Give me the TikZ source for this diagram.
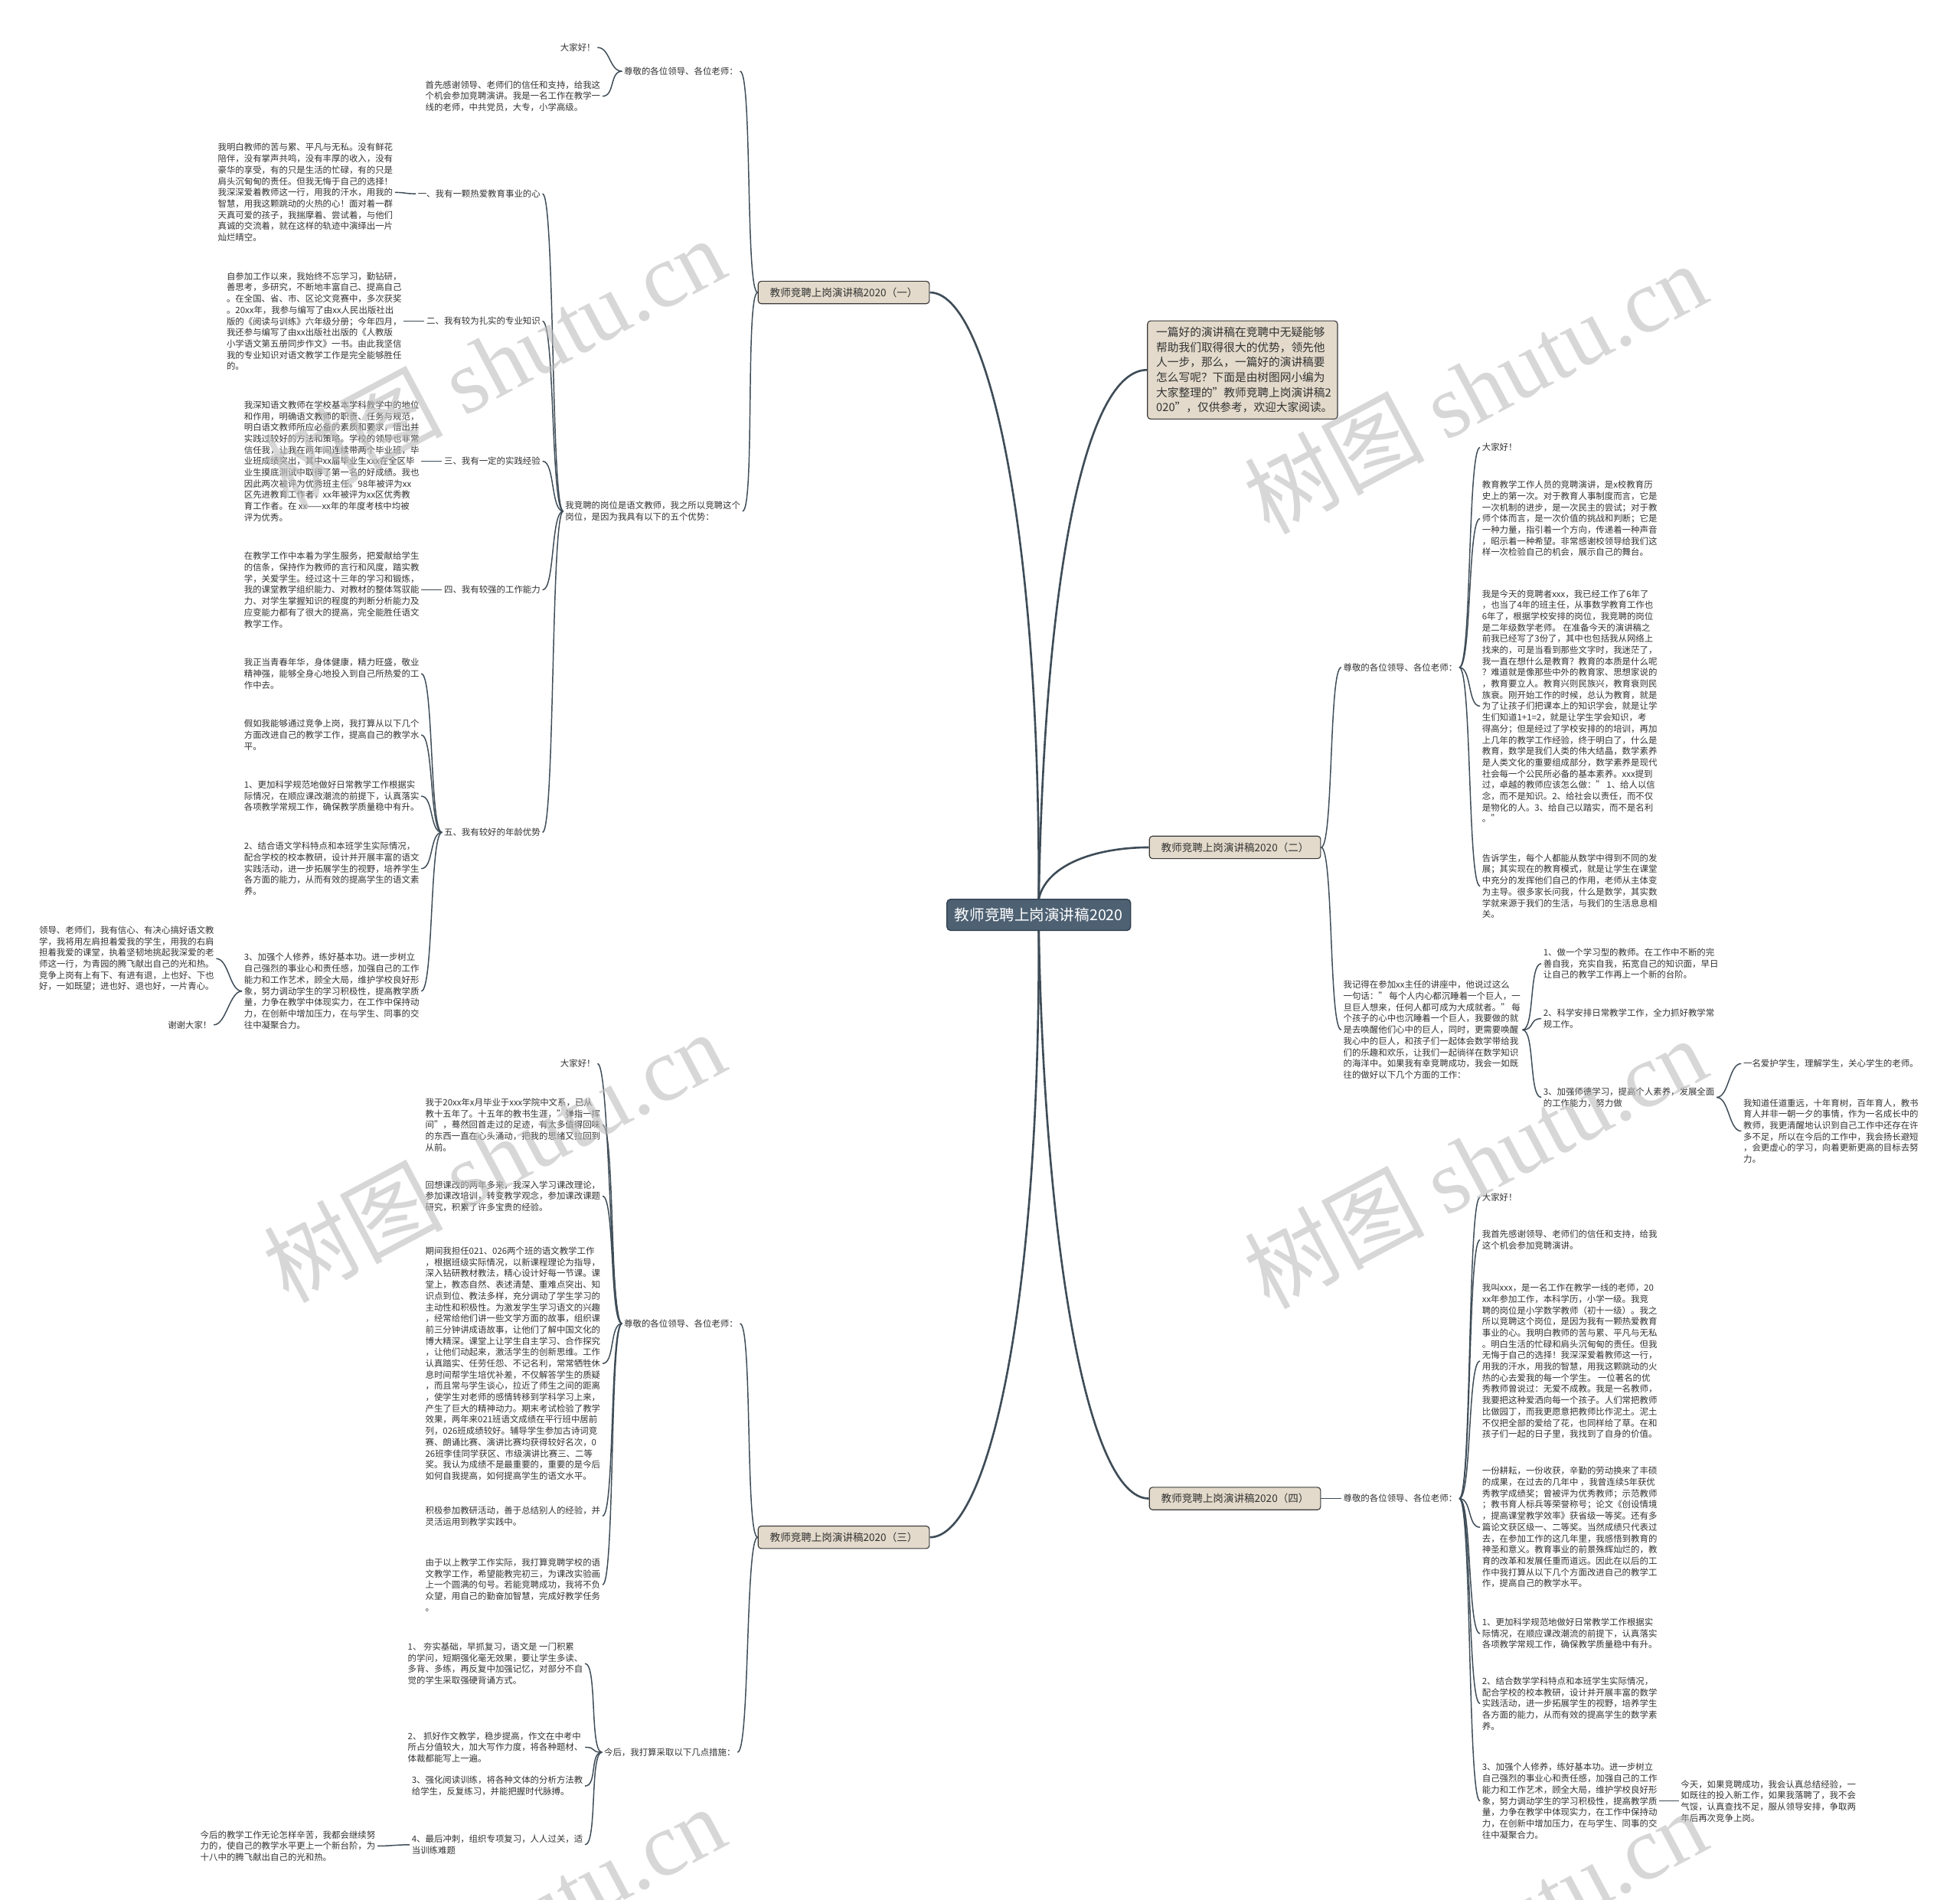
\documentclass[tikz,border=0pt]{standalone}
\usepackage{fontspec}
\setmainfont{Noto Sans CJK SC}
\newfontfamily\wmserif{Liberation Serif}
\usetikzlibrary{calc}
\definecolor{linec}{HTML}{3E4C57}
\definecolor{txtc}{HTML}{333333}
\definecolor{branchfill}{HTML}{E3DACB}
\definecolor{branchdraw}{HTML}{3A3A3A}
\definecolor{rootfill}{HTML}{4E6173}
\definecolor{rootdraw}{HTML}{2D3E4E}
\definecolor{wmc}{HTML}{BDBDBD}
\tikzset{
 txt/.style={font=\fontsize{7}{9}\selectfont, align=left, inner sep=1.5pt, text=txtc},
 txtL/.style={txt, anchor=east},
 txtR/.style={txt, anchor=west},
 branch/.style={draw=branchdraw, fill=branchfill, rounded corners=2.5pt, line width=0.7pt, font=\fontsize{8.3}{10}\selectfont, minimum width=137pt, minimum height=18pt, inner xsep=4pt, inner ysep=2pt, text=txtc},
 rootnode/.style={draw=rootdraw, fill=rootfill, rounded corners=3pt, line width=0.8pt, font=\fontsize{12}{14}\selectfont, minimum width=147pt, minimum height=25pt, text=white},
 intronode/.style={draw=branchdraw, fill=branchfill, rounded corners=2.5pt, line width=0.7pt, font=\fontsize{9}{12}\selectfont, text width=138pt, align=left, inner xsep=7pt, inner ysep=5pt, text=txtc},
 conn/.style={draw=linec, line width=0.9pt},
 mainconn/.style={draw=linec, line width=1.6pt},
 wm/.style={text=wmc, text opacity=0.6, rotate=28, font=\fontsize{72}{72}\selectfont, inner sep=0pt}
}
\newcommand\lconn[2]{\draw[conn] (#1.west) .. controls ($(#1.west)+(-10,0)$) and ($(#2.east)+(10,0)$) .. (#2.east);}
\newcommand\rconn[2]{\draw[conn] (#1.east) .. controls ($(#1.east)+(10,0)$) and ($(#2.west)+(-10,0)$) .. (#2.west);}
\begin{document}
\begin{tikzpicture}[x=1pt,y=-1pt]
\fill[white] (0,0) rectangle (1568,1520);
\useasboundingbox (0,0) rectangle (1568,1520);

% root and branches
\node[rootnode] (root) at (831,732) {教师竞聘上岗演讲稿2020};
\node[intronode] (intro) at (994,296) {一篇好的演讲稿在竞聘中无疑能够\\帮助我们取得很大的优势，领先他\\人一步，那么，一篇好的演讲稿要\\怎么写呢？下面是由树图网小编为\\大家整理的"教师竞聘上岗演讲稿2\\020"，仅供参考，欢迎大家阅读。};
\node[branch] (b1) at (675,234) {教师竞聘上岗演讲稿2020（一）};
\node[branch] (b2) at (988,678) {教师竞聘上岗演讲稿2020（二）};
\node[branch] (b3) at (675,1230) {教师竞聘上岗演讲稿2020（三）};
\node[branch] (b4) at (988,1199) {教师竞聘上岗演讲稿2020（四）};

\draw[mainconn] (root.north) .. controls (832,420) and (790,234) .. (b1.east);
\draw[mainconn] (root.north) .. controls (836,450) and (870,296) .. (intro.west);
\draw[mainconn] (root.north) .. controls (838,690) and (880,678) .. (b2.west);
\draw[mainconn] (root.south) .. controls (832,1050) and (790,1230) .. (b3.east);
\draw[mainconn] (root.south) .. controls (836,1000) and (870,1199) .. (b4.west);

% ---------- branch 1 ----------
\node[txtL] (b1a) at (592,57) {尊敬的各位领导、各位老师：};
\node[txtL] (b1a1) at (478,38) {大家好！};
\node[txtL] (b1a2) at (482,77) {首先感谢领导、老师们的信任和支持，给我这\\个机会参加竞聘演讲。我是一名工作在教学一\\线的老师，中共党员，大专，小学高级。};
\node[txtL] (b1b) at (594,409) {我竞聘的岗位是语文教师，我之所以竞聘这个\\岗位，是因为我具有以下的五个优势：};
\node[txtL] (b1b1) at (434,155) {一、我有一颗热爱教育事业的心};
\node[txtL] (b1b1a) at (316,154) {我明白教师的苦与累、平凡与无私。没有鲜花\\陪伴，没有掌声共鸣，没有丰厚的收入，没有\\豪华的享受，有的只是生活的忙碌，有的只是\\肩头沉甸甸的责任。但我无悔于自己的选择！\\我深深爱着教师这一行，用我的汗水，用我的\\智慧，用我这颗跳动的火热的心！面对着一群\\天真可爱的孩子，我揣摩着、尝试着，与他们\\真诚的交流着，就在这样的轨迹中演绎出一片\\灿烂晴空。};
\node[txtL] (b1b2) at (434,257) {二、我有较为扎实的专业知识};
\node[txtL] (b1b2a) at (323,257) {自参加工作以来，我始终不忘学习，勤钻研，\\善思考，多研究，不断地丰富自己、提高自己\\。在全国、省、市、区论文竞赛中，多次获奖\\。20xx年，我参与编写了由xx人民出版社出\\版的《阅读与训练》六年级分册；今年四月，\\我还参与编写了由xx出版社出版的《人教版\\小学语文第五册同步作文》一书。由此我坚信\\我的专业知识对语文教学工作是完全能够胜任\\的。};
\node[txtL] (b1b3) at (434,369) {三、我有一定的实践经验};
\node[txtL] (b1b3a) at (337,369) {我深知语文教师在学校基本学科教学中的地位\\和作用，明确语文教师的职责、任务与规范，\\明白语文教师所应必备的素质和要求，悟出并\\实践过较好的方法和策略。学校的领导也非常\\信任我，让我在两年间连续带两个毕业班，毕\\业班成绩突出，其中xx届毕业生xxx在全区毕\\业生摸底测试中取得了第一名的好成绩。我也\\因此两次被评为优秀班主任。98年被评为xx\\区先进教育工作者，xx年被评为xx区优秀教\\育工作者。在 xx——xx年的年度考核中均被\\评为优秀。};
\node[txtL] (b1b4) at (434,472) {四、我有较强的工作能力};
\node[txtL] (b1b4a) at (337,472) {在教学工作中本着为学生服务，把爱献给学生\\的信条，保持作为教师的言行和风度，踏实教\\学，关爱学生。经过这十三年的学习和锻炼，\\我的课堂教学组织能力、对教材的整体驾驭能\\力、对学生掌握知识的程度的判断分析能力及\\应变能力都有了很大的提高，完全能胜任语文\\教学工作。};
\node[txtL] (b1b5) at (434,666) {五、我有较好的年龄优势};
\node[txtL] (b1b5a) at (337,539) {我正当青春年华，身体健康，精力旺盛，敬业\\精神强，能够全身心地投入到自己所热爱的工\\作中去。};
\node[txtL] (b1b5b) at (337,588) {假如我能够通过竞争上岗，我打算从以下几个\\方面改进自己的教学工作，提高自己的教学水\\平。};
\node[txtL] (b1b5c) at (337,637) {1、更加科学规范地做好日常教学工作根据实\\际情况，在顺应课改潮流的前提下，认真落实\\各项教学常规工作，确保教学质量稳中有升。};
\node[txtL] (b1b5d) at (337,695) {2、结合语文学科特点和本班学生实际情况，\\配合学校的校本教研，设计并开展丰富的语文\\实践活动，进一步拓展学生的视野，培养学生\\各方面的能力，从而有效的提高学生的语文素\\养。};
\node[txtL] (b1b5e) at (337,793) {3、加强个人修养，练好基本功。进一步树立\\自己强烈的事业心和责任感，加强自己的工作\\能力和工作艺术，顾全大局，维护学校良好形\\象，努力调动学生的学习积极性，提高教学质\\量，力争在教学中体现实力，在工作中保持动\\力，在创新中增加压力，在与学生、同事的交\\往中凝聚合力。};
\node[txtL] (b1b5e1) at (173,767) {领导、老师们，我有信心、有决心搞好语文教\\学，我将用左肩担着爱我的学生，用我的右肩\\担着我爱的课堂，执着坚韧地挑起我深爱的老\\师这一行，为青园的腾飞献出自己的光和热。\\竞争上岗有上有下、有进有退，上也好、下也\\好，一如既望；进也好、退也好，一片青心。};
\node[txtL] (b1b5e2) at (171,820) {谢谢大家！};

\lconn{b1}{b1a}
\lconn{b1}{b1b}
\lconn{b1a}{b1a1}
\lconn{b1a}{b1a2}
\lconn{b1b}{b1b1}
\lconn{b1b}{b1b2}
\lconn{b1b}{b1b3}
\lconn{b1b}{b1b4}
\lconn{b1b}{b1b5}
\lconn{b1b1}{b1b1a}
\lconn{b1b2}{b1b2a}
\lconn{b1b3}{b1b3a}
\lconn{b1b4}{b1b4a}
\lconn{b1b5}{b1b5a}
\lconn{b1b5}{b1b5b}
\lconn{b1b5}{b1b5c}
\lconn{b1b5}{b1b5d}
\lconn{b1b5}{b1b5e}
\lconn{b1b5e}{b1b5e1}
\lconn{b1b5e}{b1b5e2}

% ---------- branch 3 ----------
\node[txtL] (b3a) at (592,1059) {尊敬的各位领导、各位老师：};
\node[txtL] (b3a1) at (478,851) {大家好！};
\node[txtL] (b3a2) at (482,900) {我于20xx年x月毕业于xxx学院中文系，已从\\教十五年了。十五年的教书生涯，"弹指一挥\\间"，蓦然回首走过的足迹，有太多值得回味\\的东西一直在心头涌动，把我的思绪又拉回到\\从前。};
\node[txtL] (b3a3) at (482,957) {回想课改的两年多来，我深入学习课改理论，\\参加课改培训，转变教学观念，参加课改课题\\研究，积累了许多宝贵的经验。};
\node[txtL] (b3a4) at (482,1091) {期间我担任021、026两个班的语文教学工作\\，根据班级实际情况，以新课程理论为指导，\\深入钻研教材教法，精心设计好每一节课。课\\堂上，教态自然、表述清楚、重难点突出、知\\识点到位、教法多样，充分调动了学生学习的\\主动性和积极性。为激发学生学习语文的兴趣\\，经常给他们讲一些文学方面的故事，组织课\\前三分钟讲成语故事，让他们了解中国文化的\\博大精深。课堂上让学生自主学习、合作探究\\，让他们动起来，激活学生的创新思维。工作\\认真踏实、任劳任怨、不记名利，常常牺牲休\\息时间帮学生培优补差，不仅解答学生的质疑\\，而且常与学生谈心，拉近了师生之间的距离\\，使学生对老师的感情转移到学科学习上来，\\产生了巨大的精神动力。期末考试检验了教学\\效果，两年来021班语文成绩在平行班中居前\\列，026班成绩较好。辅导学生参加古诗词竞\\赛、朗诵比赛、演讲比赛均获得较好名次，0\\26班李佳同学获区、市级演讲比赛三、二等\\奖。我认为成绩不是最重要的，重要的是今后\\如何自我提高，如何提高学生的语文水平。};
\node[txtL] (b3a5) at (482,1213) {积极参加教研活动，善于总结别人的经验，并\\灵活运用到教学实践中。};
\node[txtL] (b3a6) at (482,1268) {由于以上教学工作实际，我打算竞聘学校的语\\文教学工作，希望能教完初三，为课改实验画\\上一个圆满的句号。若能竞聘成功，我将不负\\众望，用自己的勤奋加智慧，完成好教学任务\\。};
\node[txtL] (b3b) at (590,1402) {今后，我打算采取以下几点措施：};
\node[txtL] (b3b1) at (468,1331) {1、 夯实基础，早抓复习，语文是 一门积累\\的学问，短期强化毫无效果，要让学生多读、\\多背、多练，再反复中加强记忆，对部分不自\\觉的学生采取强硬背诵方式。};
\node[txtL] (b3b2) at (468,1398) {2、 抓好作文教学，稳步提高，作文在中考中\\所占分值较大，加大写作力度，将各种题材、\\体裁都能写上一遍。};
\node[txtL] (b3b3) at (468,1429) {3、强化阅读训练，将各种文体的分析方法教\\给学生，反复练习，并能把握时代脉搏。};
\node[txtL] (b3b4) at (468,1476) {4、最后冲刺，组织专项复习，人人过关，适\\当训练难题};
\node[txtL] (b3b4a) at (302,1477) {今后的教学工作无论怎样辛苦，我都会继续努\\力的，使自己的教学水平更上一个新台阶，为\\十八中的腾飞献出自己的光和热。};

\lconn{b3}{b3a}
\lconn{b3}{b3b}
\lconn{b3a}{b3a1}
\lconn{b3a}{b3a2}
\lconn{b3a}{b3a3}
\lconn{b3a}{b3a4}
\lconn{b3a}{b3a5}
\lconn{b3a}{b3a6}
\lconn{b3b}{b3b1}
\lconn{b3b}{b3b2}
\lconn{b3b}{b3b3}
\lconn{b3b}{b3b4}
\lconn{b3b4}{b3b4a}

% ---------- branch 2 ----------
\node[txtR] (b2a) at (1073,534) {尊敬的各位领导、各位老师：};
\node[txtR] (b2a1) at (1184,358) {大家好！};
\node[txtR] (b2a2) at (1184,415) {教育教学工作人员的竞聘演讲，是x校教育历\\史上的第一次。对于教育人事制度而言，它是\\一次机制的进步，是一次民主的尝试；对于教\\师个体而言，是一次价值的挑战和判断；它是\\一种力量，指引着一个方向，传递着一种声音\\，昭示着一种希望。非常感谢校领导给我们这\\样一次检验自己的机会，展示自己的舞台。};
\node[txtR] (b2a3) at (1184,565) {我是今天的竞聘者xxx，我已经工作了6年了\\，也当了4年的班主任，从事数学教育工作也\\6年了，根据学校安排的岗位，我竞聘的岗位\\是二年级数学老师。 在准备今天的演讲稿之\\前我已经写了3份了，其中也包括我从网络上\\找来的，可是当看到那些文字时，我迷茫了，\\我一直在想什么是教育？教育的本质是什么呢\\？难道就是像那些中外的教育家、思想家说的\\，教育要立人。教育兴则民族兴，教育衰则民\\族衰。刚开始工作的时候，总认为教育，就是\\为了让孩子们把课本上的知识学会，就是让学\\生们知道1+1=2，就是让学生学会知识，考\\得高分；但是经过了学校安排的的培训，再加\\上几年的教学工作经验，终于明白了，什么是\\教育，数学是我们人类的伟大结晶，数学素养\\是人类文化的重要组成部分，数学素养是现代\\社会每一个公民所必备的基本素养。xxx提到\\过，卓越的教师应该怎么做：" 1、给人以信\\念，而不是知识。2、给社会以责任，而不仅\\是物化的人。3、给自己以踏实，而不是名利\\。"};
\node[txtR] (b2a4) at (1184,709) {告诉学生，每个人都能从数学中得到不同的发\\展；其实现在的教育模式，就是让学生在课堂\\中充分的发挥他们自己的作用，老师从主体变\\为主导。很多家长问我，什么是数学，其实数\\学就来源于我们的生活，与我们的生活息息相\\关。};
\node[txtR] (b2b) at (1073,824) {我记得在参加xx主任的讲座中，他说过这么\\一句话：" 每个人内心都沉睡着一个巨人，一\\旦巨人想来，任何人都可成为大成就者。" 每\\个孩子的心中也沉睡着一个巨人，我要做的就\\是去唤醒他们心中的巨人，同时，更需要唤醒\\我心中的巨人，和孩子们一起体会数学带给我\\们的乐趣和欢乐，让我们一起徜徉在数学知识\\的海洋中。如果我有幸竞聘成功，我会一如既\\往的做好以下几个方面的工作：};
\node[txtR] (b2b1) at (1233,771) {1、做一个学习型的教师。在工作中不断的完\\善自我，充实自我，拓宽自己的知识面，早日\\让自己的教学工作再上一个新的台阶。};
\node[txtR] (b2b2) at (1233,815) {2、科学安排日常教学工作，全力抓好教学常\\规工作。};
\node[txtR] (b2b3) at (1233,878) {3、加强师德学习，提高个人素养，发展全面\\的工作能力，努力做};
\node[txtR] (b2b3a) at (1393,851) {一名爱护学生，理解学生，关心学生的老师。};
\node[txtR] (b2b3b) at (1393,905) {我知道任道重远，十年育树，百年育人，教书\\育人并非一朝一夕的事情，作为一名成长中的\\教师，我更清醒地认识到自己工作中还存在许\\多不足，所以在今后的工作中，我会扬长避短\\，会更虚心的学习，向着更新更高的目标去努\\力。};

\rconn{b2}{b2a}
\rconn{b2}{b2b}
\rconn{b2a}{b2a1}
\rconn{b2a}{b2a2}
\rconn{b2a}{b2a3}
\rconn{b2a}{b2a4}
\rconn{b2b}{b2b1}
\rconn{b2b}{b2b2}
\rconn{b2b}{b2b3}
\rconn{b2b3}{b2b3a}
\rconn{b2b3}{b2b3b}

% ---------- branch 4 ----------
\node[txtR] (b4a) at (1073,1199) {尊敬的各位领导、各位老师：};
\node[txtR] (b4a1) at (1184,958) {大家好！};
\node[txtR] (b4a2) at (1184,992) {我首先感谢领导、老师们的信任和支持，给我\\这个机会参加竞聘演讲。};
\node[txtR] (b4a3) at (1184,1089) {我叫xxx，是一名工作在教学一线的老师，20\\xx年参加工作，本科学历，小学一级。我竞\\聘的岗位是小学数学教师（初十一级）。我之\\所以竞聘这个岗位，是因为我有一颗热爱教育\\事业的心。我明白教师的苦与累、平凡与无私\\。明白生活的忙碌和肩头沉甸甸的责任。但我\\无悔于自己的选择！我深深爱着教师这一行，\\用我的汗水，用我的智慧，用我这颗跳动的火\\热的心去爱我的每一个学生。 一位著名的优\\秀教师曾说过：无爱不成教。我是一名教师，\\我要把这种爱洒向每一个孩子。人们常把教师\\比做园丁，而我更愿意把教师比作泥土。泥土\\不仅把全部的爱给了花，也同样给了草。在和\\孩子们一起的日子里，我找到了自身的价值。};
\node[txtR] (b4a4) at (1184,1222) {一份耕耘，一份收获，辛勤的劳动换来了丰硕\\的成果，在过去的几年中 ，我曾连续5年获优\\秀教学成绩奖；曾被评为优秀教师；示范教师\\；教书育人标兵等荣誉称号；论文《创设情境\\，提高课堂教学效率》获省级一等奖。还有多\\篇论文获区级一、二等奖。当然成绩只代表过\\去，在参加工作的这几年里，我感悟到教育的\\神圣和意义。教育事业的前景殊辉灿烂的，教\\育的改革和发展任重而道远。因此在以后的工\\作中我打算从以下几个方面改进自己的教学工\\作，提高自己的教学水平。};
\node[txtR] (b4a5) at (1184,1307) {1、更加科学规范地做好日常教学工作根据实\\际情况，在顺应课改潮流的前提下，认真落实\\各项教学常规工作，确保教学质量稳中有升。};
\node[txtR] (b4a6) at (1184,1363) {2、结合数学学科特点和本班学生实际情况，\\配合学校的校本教研，设计并开展丰富的数学\\实践活动，进一步拓展学生的视野，培养学生\\各方面的能力，从而有效的提高学生的数学素\\养。};
\node[txtR] (b4a7) at (1184,1441) {3、加强个人修养，练好基本功。进一步树立\\自己强烈的事业心和责任感，加强自己的工作\\能力和工作艺术，顾全大局，维护学校良好形\\象，努力调动学生的学习积极性，提高教学质\\量，力争在教学中体现实力，在工作中保持动\\力，在创新中增加压力，在与学生、同事的交\\往中凝聚合力。};
\node[txtR] (b4a7a) at (1343,1441) {今天，如果竞聘成功，我会认真总结经验，一\\如既往的投入新工作，如果我落聘了，我不会\\气馁，认真查找不足，服从领导安排，争取两\\年后再次竞争上岗。};

\rconn{b4}{b4a}
\rconn{b4a}{b4a1}
\rconn{b4a}{b4a2}
\rconn{b4a}{b4a3}
\rconn{b4a}{b4a4}
\rconn{b4a}{b4a5}
\rconn{b4a}{b4a6}
\rconn{b4a}{b4a7}
\rconn{b4a7}{b4a7a}

% ---------- watermarks ----------
\node[wm] (wm1) at (395,290) {树图 {\wmserif shutu.cn}};
\node[wm] (wm2) at (1180,310) {树图 {\wmserif shutu.cn}};
\node[wm] (wm3) at (395,925) {树图 {\wmserif shutu.cn}};
\node[wm] (wm4) at (1180,930) {树图 {\wmserif shutu.cn}};
\node[wm] (wm5) at (395,1545) {树图 {\wmserif shutu.cn}};
\node[wm] (wm6) at (1180,1548) {树图 {\wmserif shutu.cn}};
\end{tikzpicture}
\end{document}
